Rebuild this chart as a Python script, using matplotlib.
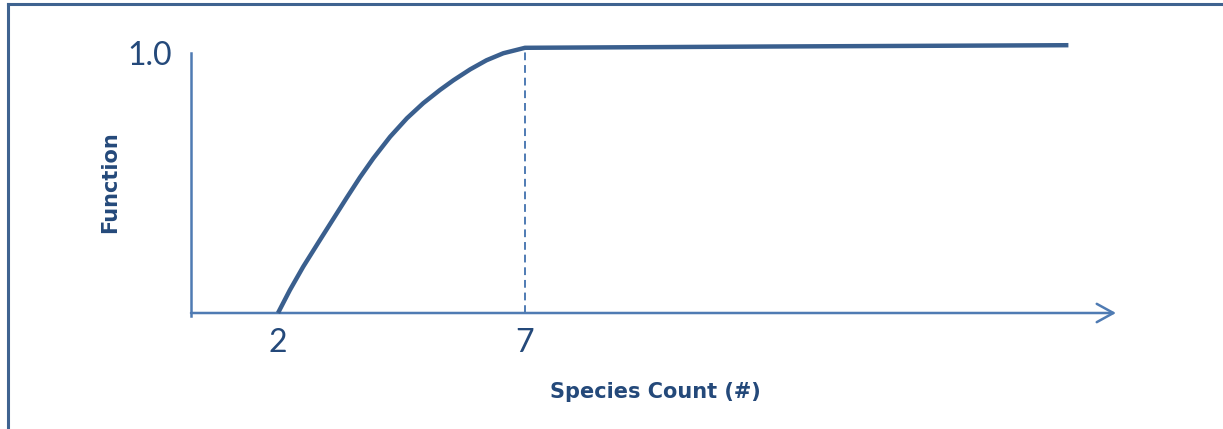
import matplotlib
matplotlib.use("Agg")
import matplotlib.pyplot as plt
from matplotlib.lines import Line2D

# values
species = [2.0, 2.24, 2.51, 2.85, 3.19, 3.39, 3.66, 3.93, 4.27, 4.61,
           4.94, 5.28, 5.55, 5.89, 6.22, 6.56, 7.0, 12.0, 18.0]
function = [0.0, 0.088, 0.178, 0.281, 0.383, 0.443, 0.522, 0.595, 0.678,
            0.749, 0.807, 0.858, 0.895, 0.937, 0.972, 0.999, 1.02, 1.025, 1.03]
saturation_x = 7.0
x_ticks = [2, 7]
y_ticks = [1.0]
y_tick_labels = ["1.0"]

dark = "#24497a"
curve_col = "#3a5f8e"
axis_col = "#4f7bb3"

plt.rcParams['font.family'] = ['Lato', 'DejaVu Sans']

W, H = 1223, 429
fig = plt.figure(figsize=(W / 100, H / 100), dpi=100)

# axes box placed in pixels: y-axis at x=191, x-axis at y=313
x_left_px, x_right_px = 191, 1118
y_bottom_px, y_top_px = 313, 27
ax = fig.add_axes([x_left_px / W, (H - y_bottom_px) / H,
                   (x_right_px - x_left_px) / W, (y_bottom_px - y_top_px) / H])
x0 = 2 - (278 - 191) / 49.4
ax.set_xlim(x0, x0 + (x_right_px - x_left_px) / 49.4)
ax.set_ylim(0, 1.1)
for s in ax.spines.values():
    s.set_visible(False)

# axis lines
ax.plot([x0, x0], [-0.01, 1.0], color=axis_col, lw=1.8, clip_on=False)
ax.annotate("", xy=(x0 + (1116 - 191) / 49.4, 0), xytext=(x0, 0),
            arrowprops=dict(arrowstyle="->,head_length=0.6,head_width=0.33",
                            mutation_scale=20, color=axis_col, lw=1.8,
                            shrinkA=0, shrinkB=0),
            annotation_clip=False)

# dashed drop line at the saturation point
y_sat = function[species.index(saturation_x)]
ax.plot([saturation_x, saturation_x], [0, y_sat], color=axis_col, lw=1.4,
        ls=(0, (4, 2.5)), clip_on=False)

# the curve
ax.plot(species, function, color=curve_col, lw=3.2, solid_capstyle="butt",
        solid_joinstyle="round", clip_on=False, zorder=3)

ax.set_xticks(x_ticks)
ax.set_xticklabels([str(t) for t in x_ticks], fontsize=23, color=dark)
ax.set_yticks(y_ticks)
ax.set_yticklabels(y_tick_labels, fontsize=23, color=dark)
ax.tick_params(length=0, pad=11)
ax.tick_params(axis="y", pad=14)

fig.text(655 / W, 1 - 392 / H, "Species Count (#)", fontsize=15,
         fontweight="bold", color=dark, ha="center", va="center",
         family="DejaVu Sans")
fig.text(110 / W, 1 - 182 / H, "Function", fontsize=15, fontweight="bold",
         color=dark, ha="center", va="center", rotation=90,
         family="DejaVu Sans")

# outer frame (top and left edges)
frame_col = "#3f6390"
fig.add_artist(Line2D([8 / W, 1], [1 - 4 / H, 1 - 4 / H], color=frame_col,
                      lw=2.2, transform=fig.transFigure))
fig.add_artist(Line2D([8 / W, 8 / W], [0, 1 - 4 / H], color=frame_col,
                      lw=2.2, transform=fig.transFigure))

fig.savefig("out.png", dpi=100)
